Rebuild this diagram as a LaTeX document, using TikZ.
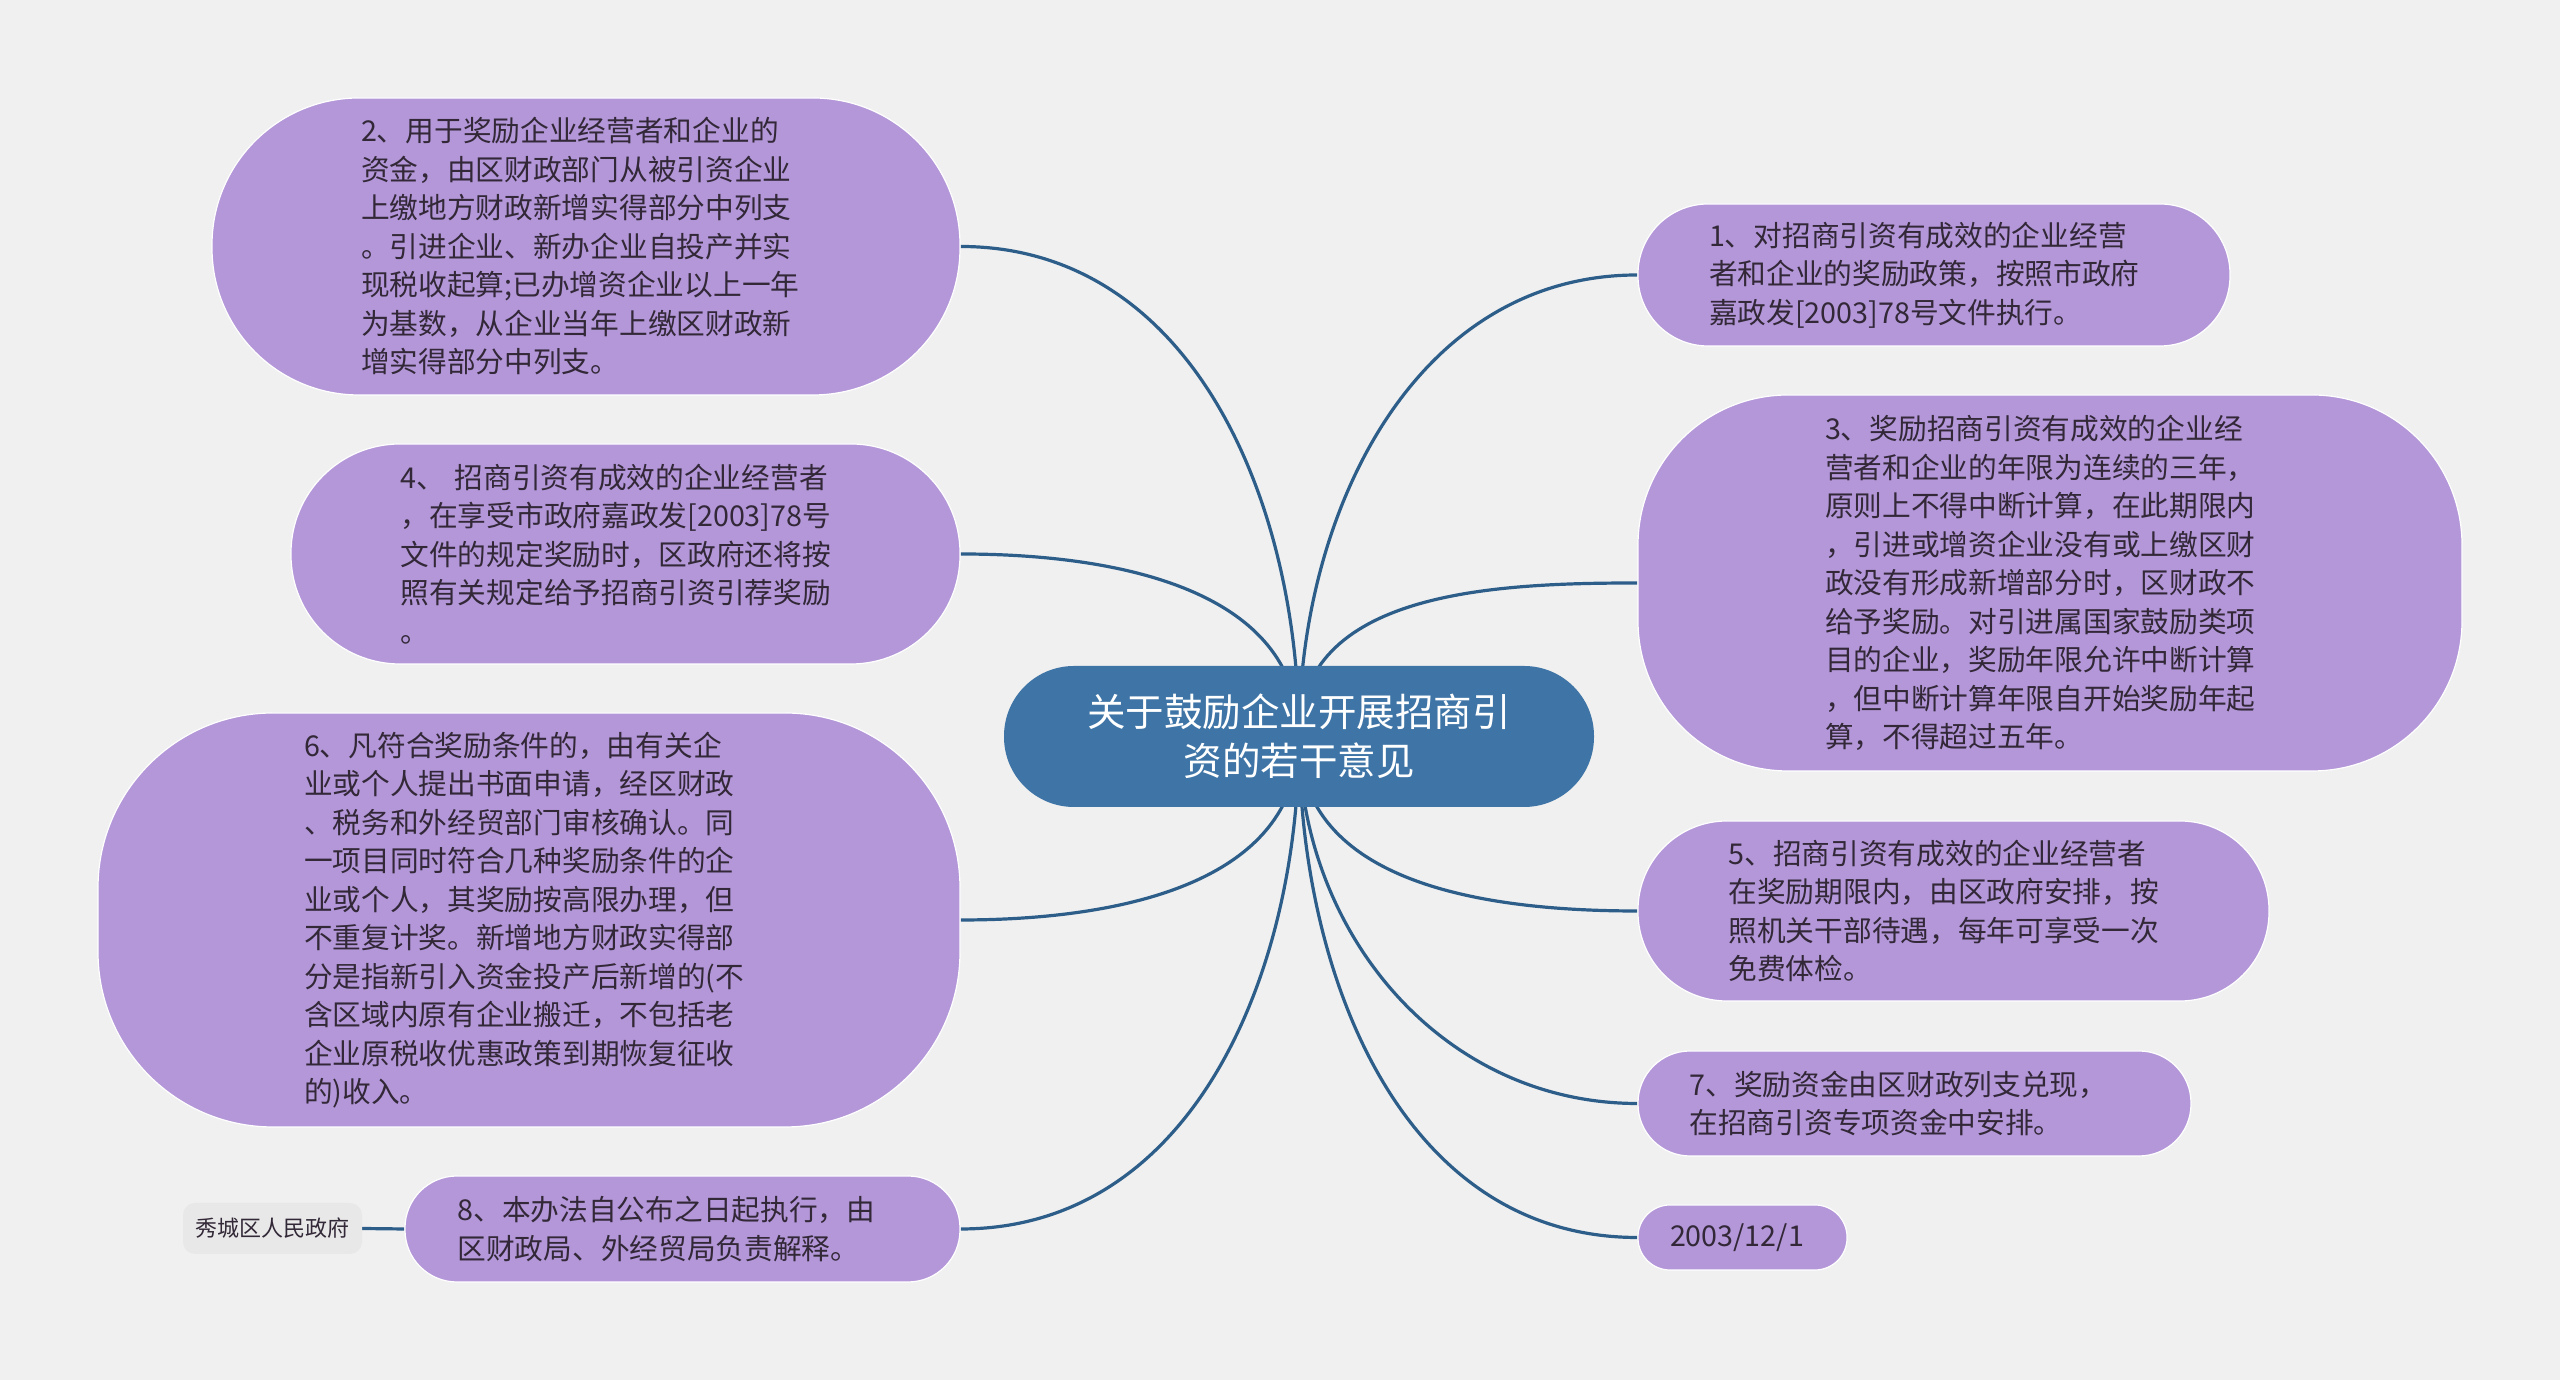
\documentclass[tikz,border=0pt]{standalone}
\usepackage{fontspec}
\setmainfont{Noto Sans CJK SC}
\usetikzlibrary{backgrounds}
\definecolor{mapbg}{RGB}{240,240,240}
\definecolor{mapblue}{RGB}{62,116,166}
\definecolor{mapline}{RGB}{45,94,138}
\definecolor{mappurple}{RGB}{180,151,217}
\definecolor{mapgray}{RGB}{232,232,232}
\definecolor{maptext}{RGB}{50,40,55}

\begin{document}
\begin{tikzpicture}[
    x=1pt, y=1pt,
    topic/.style={rectangle, fill=mapblue, rounded corners=70pt, minimum width=590pt, minimum height=141pt, text=white, align=center, font=\fontsize{38.5}{49}\selectfont},
    sub/.style={rectangle, fill=mappurple, draw=white, line width=1.2pt, inner sep=0pt, text=maptext, text width=450pt, align=left, font=\fontsize{28.7}{38.5}\selectfont},
    note/.style={rectangle, fill=mapgray, rounded corners=12pt, minimum width=179pt, minimum height=51pt, text=maptext, font=\fontsize{22}{26}\selectfont},
    link/.style={mapline, line width=3.2pt}
  ]
  \useasboundingbox (0,0) rectangle (2560,1380);

  \node[topic] (T) at (1299,643.5) {关于鼓励企业开展招商引\\资的若干意见};

  % left side
  \node[sub, minimum width=748pt, minimum height=297pt, rounded corners=147pt] (S2) at (586,1133.5) {2、用于奖励企业经营者和企业的\\
    资金，由区财政部门从被引资企业\\
    上缴地方财政新增实得部分中列支\\
    。引进企业、新办企业自投产并实\\
    现税收起算;已办增资企业以上一年\\
    为基数，从企业当年上缴区财政新\\
    增实得部分中列支。};
  \node[sub, minimum width=669pt, minimum height=220pt, rounded corners=109pt] (S4) at (625.5,826) {4、 招商引资有成效的企业经营者\\
    ，在享受市政府嘉政发[2003]78号\\
    文件的规定奖励时，区政府还将按\\
    照有关规定给予招商引资引荐奖励\\
    。};
  \node[sub, minimum width=862pt, minimum height=414pt, rounded corners=175pt] (S6) at (529,460) {6、凡符合奖励条件的，由有关企\\
    业或个人提出书面申请，经区财政\\
    、税务和外经贸部门审核确认。同\\
    一项目同时符合几种奖励条件的企\\
    业或个人，其奖励按高限办理，但\\
    不重复计奖。新增地方财政实得部\\
    分是指新引入资金投产后新增的(不\\
    含区域内原有企业搬迁，不包括老\\
    企业原税收优惠政策到期恢复征收\\
    的)收入。};
  \node[sub, minimum width=555pt, minimum height=106pt, rounded corners=52pt] (S8) at (682.5,151) {8、本办法自公布之日起执行，由\\
    区财政局、外经贸局负责解释。};
  \node[note] (G) at (272.5,151.5) {秀城区人民政府};

  % right side
  \node[sub, minimum width=592pt, minimum height=142pt, rounded corners=70pt] (S1) at (1934,1105) {1、对招商引资有成效的企业经营\\
    者和企业的奖励政策，按照市政府\\
    嘉政发[2003]78号文件执行。};
  \node[sub, minimum width=824pt, minimum height=376pt, rounded corners=150pt] (S3) at (2050,797) {3、奖励招商引资有成效的企业经\\
    营者和企业的年限为连续的三年，\\
    原则上不得中断计算，在此期限内\\
    ，引进或增资企业没有或上缴区财\\
    政没有形成新增部分时，区财政不\\
    给予奖励。对引进属国家鼓励类项\\
    目的企业，奖励年限允许中断计算\\
    ，但中断计算年限自开始奖励年起\\
    算，不得超过五年。};
  \node[sub, minimum width=631pt, minimum height=180pt, rounded corners=89pt] (S5) at (1953.5,469) {5、招商引资有成效的企业经营者\\
    在奖励期限内，由区政府安排，按\\
    照机关干部待遇，每年可享受一次\\
    免费体检。};
  \node[sub, minimum width=553pt, minimum height=105pt, rounded corners=52pt] (S7) at (1914.5,276.5) {7、奖励资金由区财政列支兑现，\\
    在招商引资专项资金中安排。};
  \node[sub, text width=145pt, minimum width=209pt, minimum height=65pt, rounded corners=32pt] (D) at (1742.5,142.5) {2003/12/1};

  \begin{scope}[on background layer]
    \fill[mapbg] (0,0) rectangle (2560,1380);
    \draw[link] (T.center) to[out=90, in=0] (S2.east);
    \draw[link] (T.center) to[out=90, in=0] (S4.east);
    \draw[link] (T.center) to[out=-90, in=0] (S6.east);
    \draw[link] (T.center) to[out=-90, in=0] (S8.east);
    \draw[link] (T.center) to[out=90, in=180] (S1.west);
    \draw[link] (T.center) to[out=90, in=180] (S3.west);
    \draw[link] (T.center) to[out=-90, in=180] (S5.west);
    \draw[link] (T.center) to[out=-90, in=180] (S7.west);
    \draw[link] (T.center) to[out=-90, in=180] (D.west);
    \draw[link] (G.east) -- (S8.west);
  \end{scope}
\end{tikzpicture}
\end{document}
